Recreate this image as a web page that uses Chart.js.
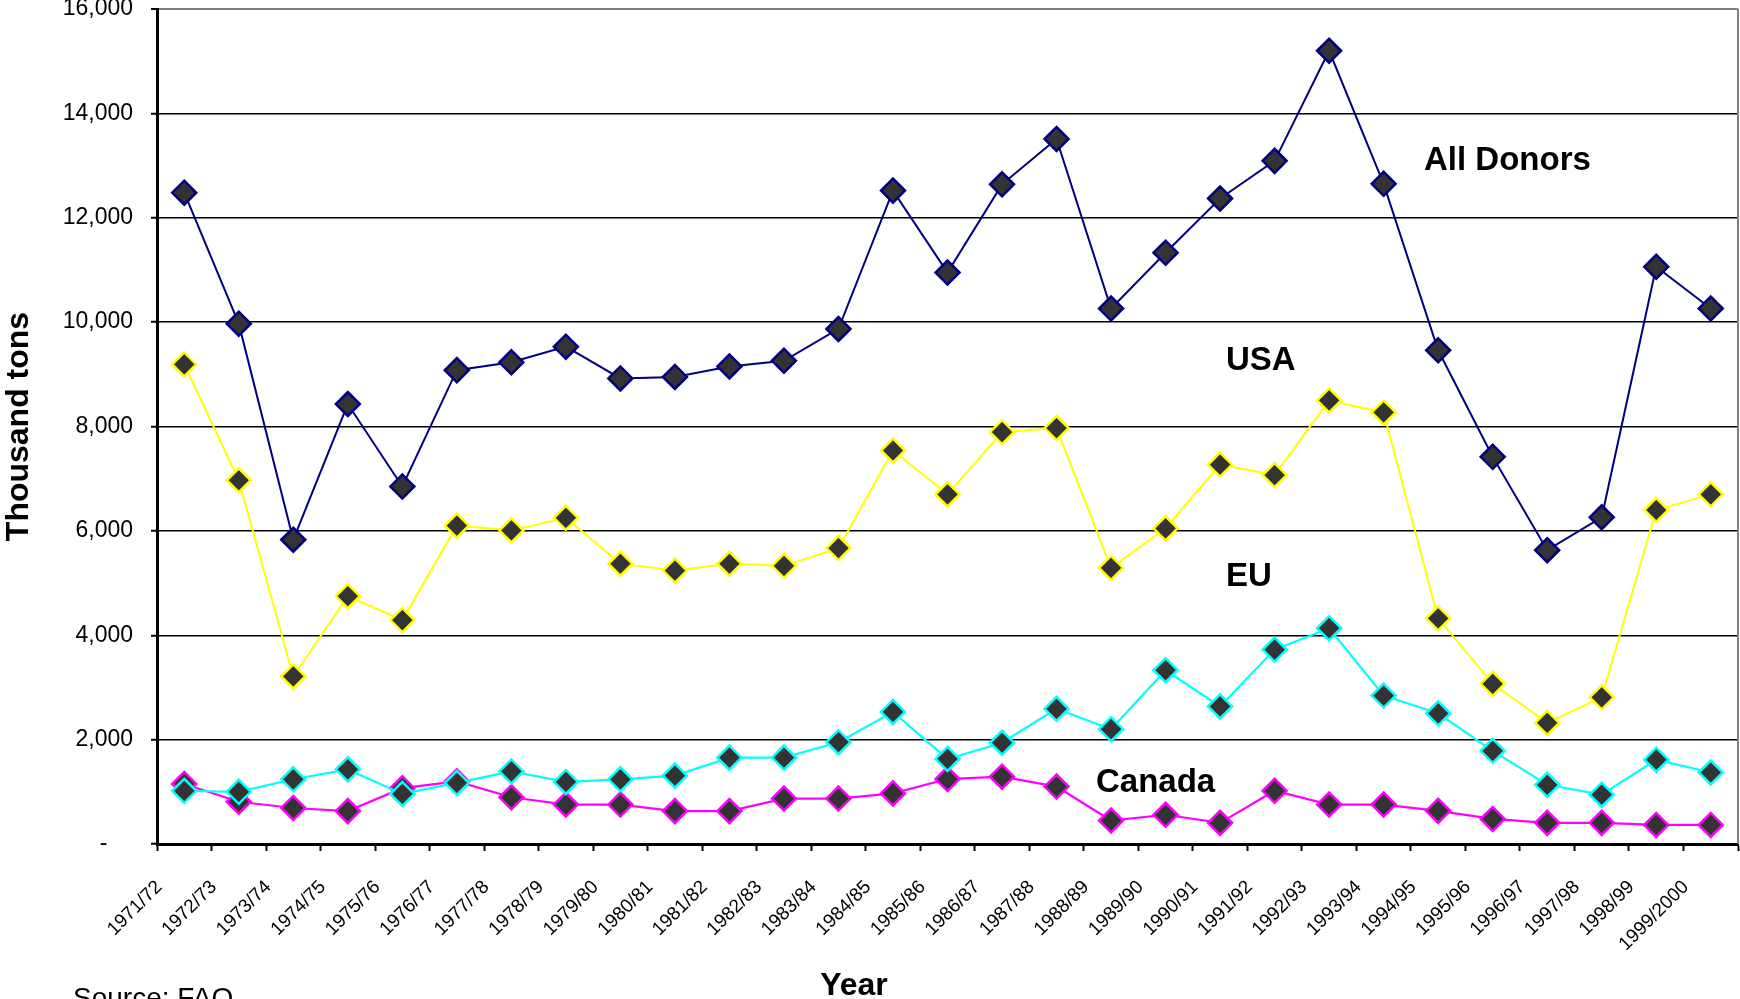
<!DOCTYPE html>
<html>
<head>
<meta charset="utf-8">
<title>Food aid shipments by donor</title>
<script src="https://cdn.jsdelivr.net/npm/chart.js@4/dist/chart.umd.min.js"></script>
<style>
  html, body { margin: 0; padding: 0; background: #fff; }
  #wrap { width: 1740px; height: 999px; }
</style>
</head>
<body>
<div id="wrap"><canvas id="chart" width="1740" height="999"></canvas></div>
<script>
// Years (x categories)
const years = ["1971/72", "1972/73", "1973/74", "1974/75", "1975/76", "1976/77", "1977/78",
  "1978/79", "1979/80", "1980/81", "1981/82", "1982/83", "1983/84", "1984/85", "1985/86",
  "1986/87", "1987/88", "1988/89", "1989/90", "1990/91", "1991/92", "1992/93", "1993/94",
  "1994/95", "1995/96", "1996/97", "1997/98", "1998/99", "1999/2000"];

// Thousand tons
const allDonors = [12480, 9970, 5830, 8430, 6850, 9080, 9230, 9530, 8920, 8950, 9150, 9260, 9870,
  12520, 10950, 12640, 13510, 10260, 11330, 12370, 13090, 15200, 12650, 9460, 7420, 5630, 6260,
  11060, 10260];
const usa = [9190, 6970, 3210, 4750, 4290, 6100, 6010, 6250, 5370, 5240, 5370, 5330, 5670, 7540,
  6700, 7890, 7970, 5290, 6050, 7270, 7070, 8500, 8270, 4325, 3070, 2320, 2810, 6400, 6700];
const eu = [1020, 1000, 1240, 1430, 960, 1170, 1390, 1190, 1240, 1310, 1655, 1655, 1950, 2530,
  1630, 1940, 2590, 2200, 3330, 2635, 3725, 4135, 2845, 2505, 1785, 1135, 945, 1615, 1370];
const canada = [1150, 810, 690, 630, 1070, 1200, 895, 755, 755, 630, 630, 870, 870, 970, 1245,
  1290, 1100, 450, 560, 405, 1020, 755, 755, 635, 480, 405, 405, 365, 365];

// Y axis
const yMin = 0;
const yMax = 16000;
const yStep = 2000;

const FONT = "'Liberation Sans', Arial, Helvetica, sans-serif";

// Series names written inside the plot
const seriesNotes = [
  { text: "All Donors", x: 1424, y: 170 },
  { text: "USA", x: 1226, y: 370 },
  { text: "EU", x: 1226, y: 586 },
  { text: "Canada", x: 1096, y: 792 }
];

function series(label, data, color, width) {
  return {
    label: label,
    data: data,
    borderColor: color,
    borderWidth: width,
    backgroundColor: "#333333",
    pointStyle: "rectRot",
    pointRadius: 12,
    pointBorderWidth: 2.5,
    pointBorderColor: color,
    pointBackgroundColor: "#333333",
    tension: 0,
    fill: false
  };
}

// Texts that sit outside the axes, plus the grey right frame line
const notesPlugin = {
  id: "notes",
  beforeDatasetsDraw(chart) {
    const ctx = chart.ctx;
    const a = chart.chartArea;
    ctx.save();
    ctx.strokeStyle = "#808080";
    ctx.lineWidth = 2;
    ctx.beginPath();
    ctx.moveTo(a.right, a.top);
    ctx.lineTo(a.right, a.bottom);
    ctx.stroke();
    ctx.restore();
  },
  afterDraw(chart) {
    const ctx = chart.ctx;
    ctx.save();
    ctx.fillStyle = "#000";
    ctx.textAlign = "left";
    ctx.textBaseline = "alphabetic";
    ctx.font = "bold 33px " + FONT;
    seriesNotes.forEach(n => ctx.fillText(n.text, n.x, n.y));

    ctx.textAlign = "center";
    ctx.font = "bold 32px " + FONT;
    ctx.fillText("Year", 854, 995);

    ctx.textAlign = "left";
    ctx.font = "28px " + FONT;
    ctx.fillText("Source: FAO", 73, 1007);
    ctx.restore();
  }
};

const ctx = document.getElementById("chart").getContext("2d");
const chart = new Chart(ctx, {
  type: "line",
  data: {
    labels: years,
    datasets: [
      series("All Donors", allDonors, "#000080", 2),
      series("USA", usa, "#FFFF00", 2),
      series("EU", eu, "#00FFFF", 2.2),
      series("Canada", canada, "#FF00FF", 2.2)
    ]
  },
  options: {
    responsive: false,
    devicePixelRatio: 1,
    animation: false,
    layout: { autoPadding: false, padding: { left: 0, top: 9, right: 2, bottom: 0 } },
    plugins: {
      legend: { display: false },
      tooltip: { enabled: false }
    },
    scales: {
      x: {
        type: "category",
        offset: true,
        afterFit: (scale) => {
          scale.height = 155;
          scale.paddingLeft = 0;
          scale.paddingRight = 0;
        },
        grid: {
          offset: true,
          drawOnChartArea: false,
          drawTicks: true,
          tickLength: 7,
          tickWidth: 2,
          tickColor: "#000"
        },
        border: { display: true, color: "#000", width: 3 },
        ticks: {
          autoSkip: false,
          minRotation: 45,
          maxRotation: 45,
          labelOffset: -25,
          padding: 25,
          color: "#000",
          font: { family: FONT, size: 19 }
        }
      },
      y: {
        min: yMin,
        max: yMax,
        afterFit: (scale) => {
          scale.width = 157;
          scale.paddingTop = 0;
          scale.paddingBottom = 0;
        },
        grid: {
          color: (c) => (c.tick && c.tick.value === yMax ? "#808080" : "#000"),
          lineWidth: (c) => (c.tick && c.tick.value === yMax ? 2 : 1.5),
          tickColor: "#000",
          tickLength: 6,
          tickWidth: 2
        },
        border: { display: true, color: "#000", width: 3 },
        title: {
          display: true,
          text: "Thousand tons",
          color: "#000",
          font: { family: FONT, size: 32, weight: "bold" },
          padding: { top: 0, bottom: 0 }
        },
        ticks: {
          stepSize: yStep,
          padding: 18,
          color: "#000",
          font: { family: FONT, size: 23 },
          callback: (v) => (v === 0 ? "-    " : v.toLocaleString("en-US"))
        }
      }
    }
  },
  plugins: [notesPlugin]
});
</script>
</body>
</html>
